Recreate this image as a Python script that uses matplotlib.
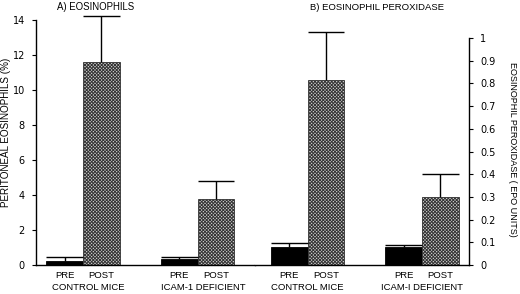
import numpy as np
import matplotlib
matplotlib.use('Agg')
from matplotlib import pyplot as plt
from matplotlib.transforms import blended_transform_factory

plt.rcParams['hatch.linewidth'] = 0.7

# data
conditions = ['PRE', 'POST']
groups_a = ['CONTROL MICE', 'ICAM-1 DEFICIENT']
groups_b = ['CONTROL MICE', 'ICAM-I DEFICIENT']

eos_pre = [0.25, 0.35]
eos_pre_err = [0.2, 0.12]
eos_post = [11.6, 3.78]
eos_post_err = [2.65, 1.03]

epo_pre = [0.08, 0.08]
epo_pre_err = [0.018, 0.01]
epo_post = [0.815, 0.30]
epo_post_err = [0.21, 0.10]

eos_ticks = [0, 2, 4, 6, 8, 10, 12, 14]
epo_ticks = [0, 0.1, 0.2, 0.3, 0.4, 0.5, 0.6, 0.7, 0.8, 0.9, 1]
epo_ticklabels = ['0', '0.1', '0.2', '0.3', '0.4', '0.5', '0.6', '0.7', '0.8', '0.9', '1']

W, H = 520, 294
fig = plt.figure(figsize=(W / 100, H / 100), dpi=100)

txt = dict(family=['Liberation Sans', 'DejaVu Sans'], color='black')
width = 0.32


def panel(ax, pre, pre_err, post, post_err, groups, shift=0.0):
    x = np.arange(len(groups))
    xp = x - width / 2
    xq = x + width / 2
    ax.bar(xp, pre, width, color='black', edgecolor='black', linewidth=0.6)
    ax.bar(xq, post, width, color='#d0d0d0', edgecolor='#333333',
           hatch='xxxxxxxxxx', linewidth=0.6)
    # one-sided error bars, cap as wide as the bar
    for xs, m, e in [(xp, pre, pre_err), (xq, post, post_err)]:
        m = np.asarray(m)
        e = np.asarray(e)
        ax.vlines(xs, m, m + e, color='black', lw=1.0, clip_on=False)
        ax.hlines(m + e, xs - width / 2, xs + width / 2, color='black',
                  lw=1.0, clip_on=False)
    ax.set_xticks(np.concatenate([xp, xq]))
    ax.set_xticklabels([conditions[0]] * len(groups) +
                       [conditions[1]] * len(groups), fontsize=6.8, **txt)
    ax.tick_params(axis='x', length=0, pad=4)
    ax.spines['top'].set_visible(False)
    ax.spines['bottom'].set_linewidth(1.0)
    # group names under the PRE/POST labels
    trans = blended_transform_factory(ax.transData, fig.transFigure)
    for xi, g in zip(x, groups):
        ax.text(xi + shift, 1 - 288 / H, g, transform=trans,
                ha='center', va='center', fontsize=6.8, **txt)


# panel A
axa = fig.add_axes([36 / W, (H - 265) / H, 219 / W, 245 / H])
panel(axa, eos_pre, eos_pre_err, eos_post, eos_post_err, groups_a, 0.05)
axa.set_xlim(-0.41, 1.50)
axa.set_ylim(0, 14)
axa.set_yticks(eos_ticks)
axa.set_yticklabels([str(t) for t in eos_ticks], fontsize=7,
                    family='DejaVu Sans')
axa.tick_params(axis='y', length=3, width=0.8, pad=5)
axa.spines['right'].set_visible(False)
axa.spines['left'].set_linewidth(1.0)
fig.text(6 / W, 1 - 132 / H, 'PERITONEAL EOSINOPHILS (%)', rotation=90,
         ha='center', va='center', fontsize=7.1, **txt)
fig.text(96 / W, 1 - 7 / H, 'A) EOSINOPHILS', ha='center', va='center',
         fontsize=6.9, **txt)

# panel B
axb = fig.add_axes([255 / W, (H - 265) / H, 214 / W, 227 / H])
panel(axb, epo_pre, epo_pre_err, epo_post, epo_post_err, groups_b)
axb.set_xlim(-0.46, 1.41)
axb.set_ylim(0, 1)
axb.set_yticks(epo_ticks)
axb.set_yticklabels(epo_ticklabels, fontsize=7, family='DejaVu Sans')
axb.yaxis.tick_right()
axb.tick_params(axis='y', length=3, width=0.8, pad=5)
axb.spines['left'].set_visible(False)
axb.spines['right'].set_linewidth(1.0)
fig.text(513 / W, 1 - 149 / H, 'EOSINOPHIL PEROXIDASE ( EPO UNITS)',
         rotation=-90, ha='center', va='center', fontsize=6.5, **txt)
fig.text(377 / W, 1 - 8 / H, 'B) EOSINOPHIL PEROXIDASE', ha='center',
         va='center', fontsize=6.8, **txt)

fig.savefig('out.png', dpi=100)
